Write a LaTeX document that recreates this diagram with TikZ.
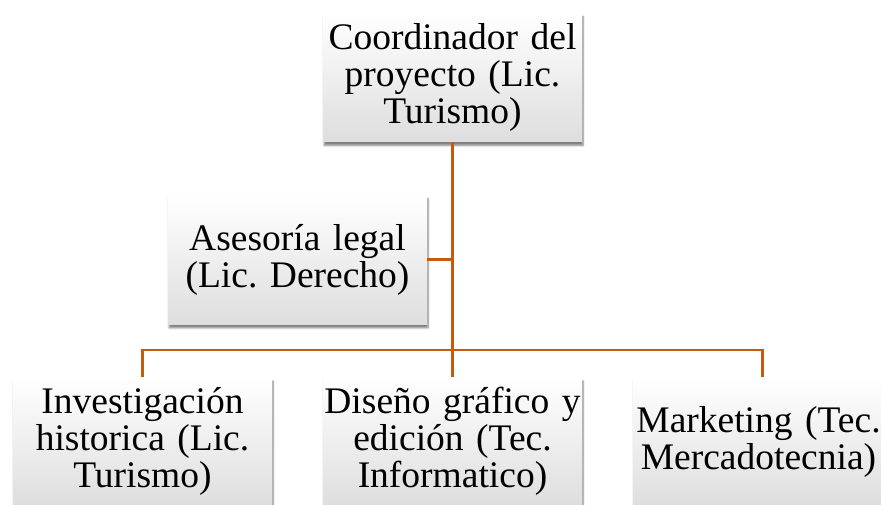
\documentclass[tikz,border=0pt]{standalone}
\usepackage{fontspec}
\setmainfont{Liberation Serif}
\usetikzlibrary{shadows.blur}
\definecolor{conn}{RGB}{197,90,17}
\tikzset{
  boxtext/.style={text width=258pt, align=center, inner sep=0pt,
    font=\fontsize{37.5pt}{37pt}\selectfont\frenchspacing},
  box/.style={boxtext, minimum width=259pt, minimum height=129pt,
    top color=white, bottom color=black!13,
    blur shadow={shadow xshift=1pt, shadow yshift=-4pt, shadow blur steps=6, shadow opacity=50}},
  link/.style={draw=conn, line width=2.5pt}
}
\begin{document}
\begin{tikzpicture}[x=1pt,y=1pt]
\useasboundingbox (0,0) rectangle (881,504);
\clip (0,0) rectangle (881,504);
\node[box] (top) at (452.5,504-77) {Coordinador del\\ proyecto (Lic.\\ Turismo)};
\node[box] (ase) at (297.5,504-259.5) {Asesoría legal\\ (Lic. Derecho)};
\node[box] (inv) at (142.5,504-441.5) {Investigación\\ historica (Lic.\\ Turismo)};
\node[box] (dis) at (452.5,504-441.5) {Diseño gráfico y\\ edición (Tec.\\ Informatico)};
\node[box] (mkt) at (762.5,504-441.5) {};
\node[boxtext] (mkttext) at ([xshift=-4pt]mkt.center) {Marketing (Tec.\\ Mercadotecnia)};
\coordinate (junc) at (top.south |- ase.east);
\coordinate (bar) at (top.south |- 0,504-350);
\draw[link] (top.south) -- (bar);
\draw[link] (ase.east) -- (junc);
\draw[link] (inv.north) |- (bar) -| (mkt.north);
\draw[link] (bar) -- (dis.north);
\end{tikzpicture}
\end{document}
